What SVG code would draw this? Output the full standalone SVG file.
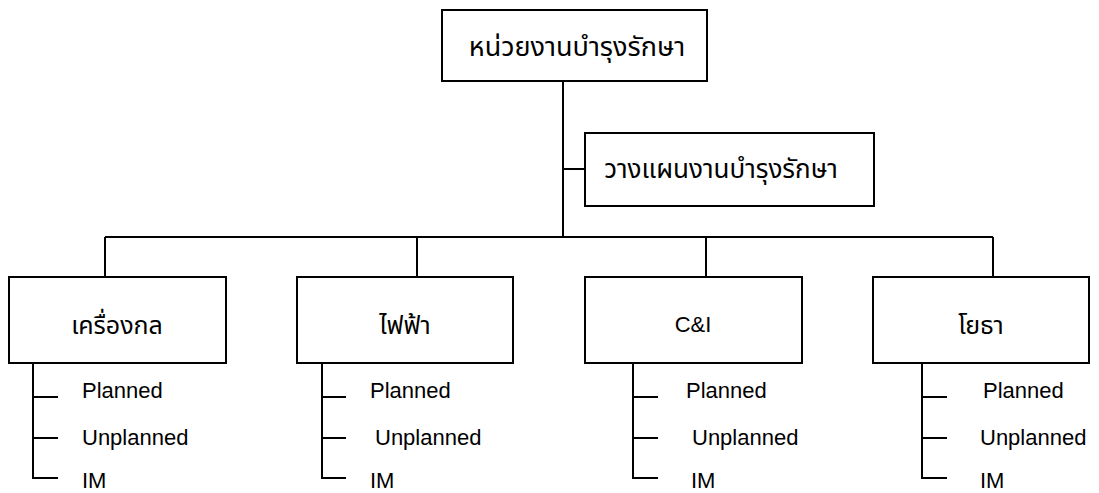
<svg xmlns="http://www.w3.org/2000/svg" width="1099" height="493" viewBox="0 0 1099 493">
  <style>
    .box { fill: #ffffff; stroke: #000000; stroke-width: 2; }
    .wire { fill: none; stroke: #000000; stroke-width: 2; }
    .th { font-family: "Noto Sans Thai", "Noto Sans Thai UI", "Loma", "Garuda", "Noto Sans", sans-serif; font-size: 25px; fill: #000000; text-anchor: middle; }
    .en { font-family: "Liberation Sans", Arial, sans-serif; font-size: 22px; fill: #000000; }
    .mid { text-anchor: middle; }
  </style>
  <rect width="1099" height="493" fill="#ffffff"/>

  <!-- connectors -->
  <g id="connectors" class="wire">
    <path d="M563 81 V237"/>
    <path d="M563 169 H585"/>
    <path d="M105 237 H993"/>
    <path d="M105 237 V277"/>
    <path d="M417 237 V277"/>
    <path d="M706 237 V277"/>
    <path d="M993 237 V277"/>
    <!-- work-type branches under each section -->
    <path d="M33 363 V478 H58 M33 397 H58 M33 438 H58"/>
    <path d="M322 363 V478 H346 M322 397 H346 M322 438 H346"/>
    <path d="M633 363 V478 H658 M633 397 H658 M633 438 H658"/>
    <path d="M922 363 V478 H947 M922 397 H947 M922 438 H947"/>
  </g>

  <g id="node-maintenance">
    <rect class="box" x="442" y="10" width="265" height="71"/>
    <text class="th" x="577" y="56" style="font-size:27px">หน่วยงานบำรุงรักษา</text>
  </g>

  <g id="node-planning">
    <rect class="box" x="585" y="133" width="289" height="73"/>
    <text class="th" x="721" y="178" style="font-size:26px">วางแผนงานบำรุงรักษา</text>
  </g>

  <g id="node-mechanical">
    <rect class="box" x="9" y="277" width="217" height="86"/>
    <text class="th" x="117" y="334">เครื่องกล</text>
    <text class="en" x="82" y="398">Planned</text>
    <text class="en" x="82" y="445">Unplanned</text>
    <text class="en" x="82" y="488">IM</text>
  </g>

  <g id="node-electrical">
    <rect class="box" x="297" y="277" width="216" height="86"/>
    <text class="th" x="405" y="334">ไฟฟ้า</text>
    <text class="en" x="370" y="398">Planned</text>
    <text class="en" x="375" y="445">Unplanned</text>
    <text class="en" x="370" y="488">IM</text>
  </g>

  <g id="node-ci">
    <rect class="box" x="585" y="277" width="217" height="86"/>
    <text class="en mid" x="693" y="332">C&amp;I</text>
    <text class="en" x="686" y="398">Planned</text>
    <text class="en" x="692" y="445">Unplanned</text>
    <text class="en" x="691" y="488">IM</text>
  </g>

  <g id="node-civil">
    <rect class="box" x="873" y="277" width="216" height="86"/>
    <text class="th" x="981" y="334">โยธา</text>
    <text class="en" x="983" y="398">Planned</text>
    <text class="en" x="980" y="445">Unplanned</text>
    <text class="en" x="980" y="488">IM</text>
  </g>
</svg>
